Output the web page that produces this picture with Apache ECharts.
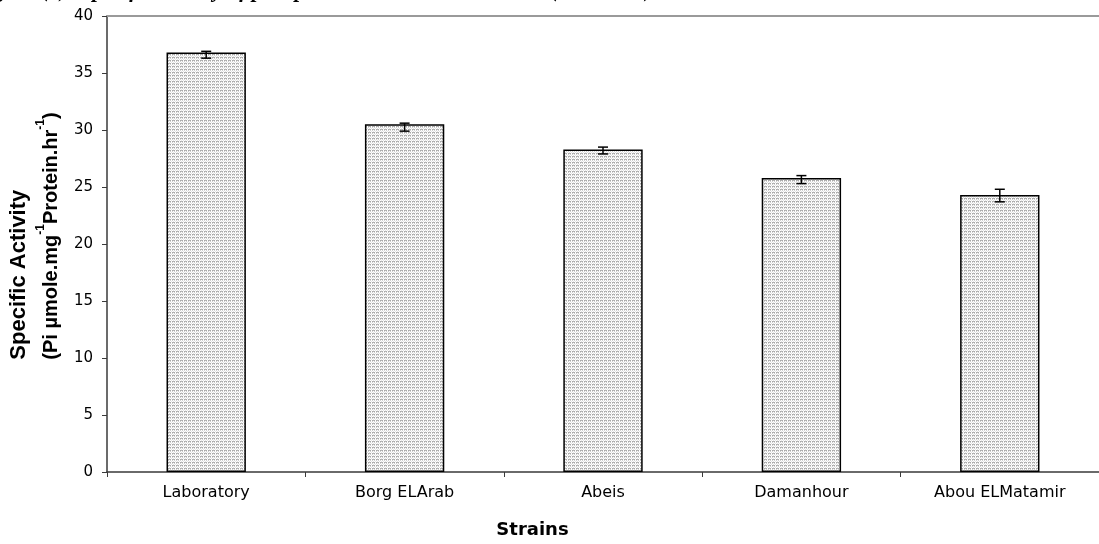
<!DOCTYPE html>
<html>
<head>
<meta charset="utf-8">
<script src="https://cdn.jsdelivr.net/npm/echarts@6/dist/echarts.min.js"></script>
<style>
  html, body { margin: 0; padding: 0; background: #fff; }
  #chart { width: 1099px; height: 544px; }
</style>
</head>
<body>
<div id="chart"></div>
<script>
// Phosphatase specific activity per strain, with error-bar bounds
const strains = ['Laboratory', 'Borg ELArab', 'Abeis', 'Damanhour', 'Abou ELMatamir'];
const specificActivity = [36.8, 30.5, 28.3, 25.8, 24.3];
const errorLow = [36.3, 29.9, 27.9, 25.3, 23.7];
const errorHigh = [36.9, 30.6, 28.5, 26.0, 24.8];
const yMin = 0, yMax = 40, yStep = 5;

const captionText = 'Figure (1): Specific activity of phosphatase in the tested strains (4th instar)';
const yTitleLine1 = 'Specific Activity';
const yTitleLine2 = ['(Pi \u00b5mole.mg', '-1', 'Protein.hr', '-1', ')'];
const xTitle = 'Strains';

// small stippled tile used as the bar fill
function stippleTile() {
  const c = document.createElement('canvas');
  c.width = 4; c.height = 3;
  const ctx = c.getContext('2d');
  ctx.fillStyle = '#ffffff';
  ctx.fillRect(0, 0, 4, 3);
  const px = (x, y, col) => { ctx.fillStyle = col; ctx.fillRect(x, y, 1, 1); };
  px(0, 0, '#a8a8a8'); px(1, 0, '#b8b8b8'); px(2, 0, '#a8a8a8');
  px(0, 1, '#cfcfcf'); px(2, 1, '#cfcfcf');
  px(1, 2, '#e4e4e4'); px(3, 2, '#e4e4e4');
  return c;
}

const chart = echarts.init(document.getElementById('chart'), null, { renderer: 'canvas' });

const axisDark = '#3a3a3a';
const titleFont = '"Liberation Sans", Arial, sans-serif';

// rotated axis title: second line carries raised "-1" exponents
const yTitleRich =
  '{a|' + yTitleLine1 + '}\n' +
  '{t|' + yTitleLine2[0] + '}{s|' + yTitleLine2[1] + '}{t|' + yTitleLine2[2] +
  '}{s|' + yTitleLine2[3] + '}{t|' + yTitleLine2[4] + '}';

chart.setOption({
  animation: false,
  backgroundColor: '#ffffff',
  textStyle: { fontFamily: '"DejaVu Sans", sans-serif' },
  grid: { left: 107, right: -3, top: 16, bottom: 68, containLabel: false },
  graphic: [{
    type: 'text',
    x: -26,
    y: 2,
    style: {
      text: captionText,
      font: 'italic bold 22px "Liberation Serif", serif',
      verticalAlign: 'bottom',
      fill: '#000'
    }
  }],
  xAxis: [{
    type: 'category',
    data: strains,
    position: 'bottom',
    axisLine: { lineStyle: { color: axisDark, width: 1.5 } },
    axisTick: { show: true, length: 5, interval: 0, lineStyle: { color: axisDark, width: 1 } },
    axisLabel: { color: '#000', fontSize: 16, margin: 13, fontFamily: '"DejaVu Sans", sans-serif', interval: 0 },
    name: xTitle,
    nameLocation: 'middle',
    nameGap: 49,
    nameTextStyle: {
      color: '#000', fontSize: 18, fontWeight: 'bold',
      fontFamily: '"DejaVu Sans", sans-serif',
      padding: [0, 141, 0, 0]
    }
  }, {
    type: 'category',
    data: strains,
    position: 'top',
    axisLine: { lineStyle: { color: '#9a9a9a', width: 2 } },
    axisTick: { show: false },
    axisLabel: { show: false }
  }],
  yAxis: {
    type: 'value',
    min: yMin,
    max: yMax,
    interval: yStep,
    axisLine: { show: true, lineStyle: { color: axisDark, width: 1.5 } },
    axisTick: { show: true, length: 5, lineStyle: { color: axisDark, width: 1 } },
    splitLine: { show: false },
    axisLabel: { color: '#000', fontSize: 15, margin: 14, fontFamily: '"DejaVu Sans", sans-serif' },
    name: yTitleRich,
    nameLocation: 'middle',
    nameGap: 40,
    nameRotate: 90,
    nameTextStyle: {
      padding: [0, 0, 0, 16],
      rich: {
        a: {
          align: 'left',
          color: '#000', fontSize: 22, fontWeight: 'bold', lineHeight: 32,
          fontFamily: titleFont
        },
        t: {
          align: 'left',
          color: '#000', fontSize: 20, fontWeight: 'bold', lineHeight: 32,
          fontFamily: titleFont
        },
        s: {
          align: 'left', verticalAlign: 'top',
          color: '#000', fontSize: 12, fontWeight: 'bold', lineHeight: 23,
          fontFamily: titleFont
        }
      }
    }
  },
  series: [{
    type: 'bar',
    xAxisIndex: 0,
    data: specificActivity,
    barWidth: '40%',
    itemStyle: {
      color: { image: stippleTile(), repeat: 'repeat' },
      borderColor: '#000',
      borderWidth: 1.5
    },
    z: 2
  }, {
    type: 'custom',
    xAxisIndex: 0,
    data: strains.map((s, i) => [i, errorLow[i], errorHigh[i]]),
    encode: { x: 0, y: [1, 2] },
    z: 3,
    renderItem(params, api) {
      const idx = api.value(0);
      const lo = api.coord([idx, api.value(1)]);
      const hi = api.coord([idx, api.value(2)]);
      const half = 5;
      const style = { stroke: '#000', lineWidth: 1.5 };
      return {
        type: 'group',
        children: [
          { type: 'line', shape: { x1: hi[0], y1: hi[1], x2: lo[0], y2: lo[1] }, style },
          { type: 'line', shape: { x1: hi[0] - half, y1: hi[1], x2: hi[0] + half, y2: hi[1] }, style },
          { type: 'line', shape: { x1: lo[0] - half, y1: lo[1], x2: lo[0] + half, y2: lo[1] }, style }
        ]
      };
    }
  }]
});
</script>
</body>
</html>
